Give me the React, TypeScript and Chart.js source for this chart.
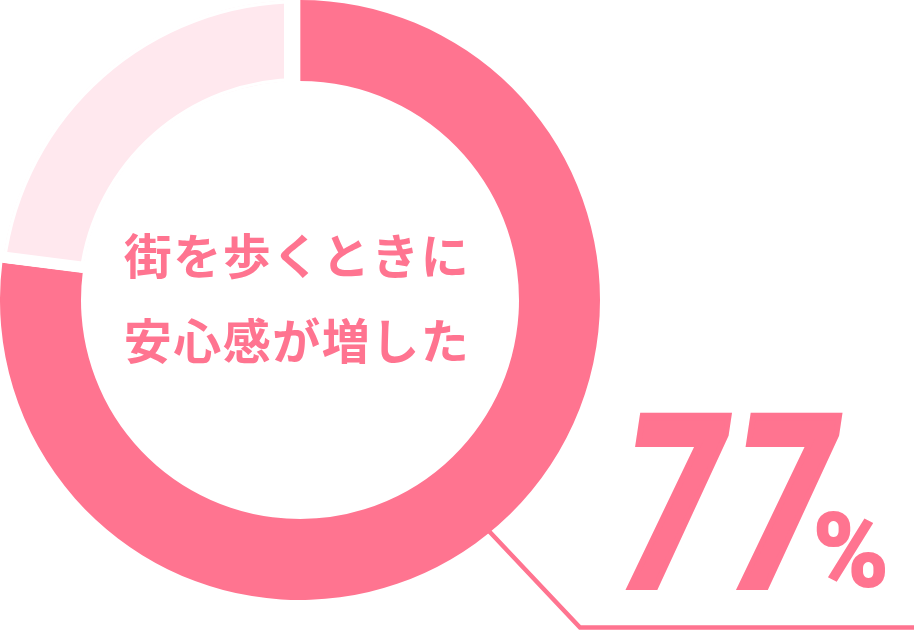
import { useEffect, useRef } from "react";
import { Chart, registerables } from "chart.js";

Chart.register(...registerables);

// data
const labels = ["街を歩くときに安心感が増した", "その他"];
const values = [77, 23];
const colors = ["#ff7490", "#ffe8ee"];
const centerLines = ["街を歩くときに", "安心感が増した"];
const bigValue = "77";
const unit = "%";

const PINK = "#ff7490";

const overlayPlugin = {
  id: "overlay",
  beforeDatasetsDraw(chart: any) {
    const ctx = chart.ctx;
    // leader line, starts under the ring
    ctx.save();
    ctx.strokeStyle = PINK;
    ctx.lineWidth = 4.5;
    ctx.beginPath();
    ctx.moveTo(470, 511);
    ctx.lineTo(580, 627.5);
    ctx.lineTo(chart.width + 5, 627.5);
    ctx.stroke();
    ctx.restore();
  },
  afterDatasetsDraw(chart: any) {
    const ctx = chart.ctx;
    const arc = chart.getDatasetMeta(0).data[1];
    if (!arc) return;
    const { x, y, startAngle, endAngle, innerRadius, outerRadius } = arc;

    // white gaps cut into the light segment
    const gap = (angle: number, width: number, side: number) => {
      const ux = Math.cos(angle);
      const uy = Math.sin(angle);
      const nx = -Math.sin(angle) * side * (width / 2);
      const ny = Math.cos(angle) * side * (width / 2);
      ctx.beginPath();
      ctx.moveTo(x + nx + ux * (innerRadius - 4), y + ny + uy * (innerRadius - 4));
      ctx.lineTo(x + nx + ux * (outerRadius + 4), y + ny + uy * (outerRadius + 4));
      ctx.lineWidth = width;
      ctx.stroke();
    };
    ctx.save();
    ctx.strokeStyle = "#ffffff";
    ctx.lineCap = "butt";
    gap(startAngle, 11, 1);
    gap(endAngle, 16, -1);
    ctx.restore();

    // centre caption
    ctx.save();
    ctx.fillStyle = PINK;
    ctx.font = 'bold 48px "Noto Sans CJK JP"';
    ctx.textAlign = "center";
    ctx.textBaseline = "middle";
    (ctx as any).letterSpacing = "1.5px";
    ctx.fillText(centerLines[0], x - 3, y - 44);
    ctx.fillText(centerLines[1], x - 3, y + 41);
    ctx.restore();

    // big number, slanted and condensed
    ctx.save();
    ctx.fillStyle = PINK;
    ctx.strokeStyle = PINK;
    ctx.lineJoin = "miter";
    ctx.translate(612, 586);
    ctx.transform(1, 0, -0.15, 1, 0, 0);
    ctx.scale(0.72, 1);
    ctx.font = 'bold 238px Roboto';
    (ctx as any).letterSpacing = "17px";
    ctx.lineWidth = 8;
    ctx.textAlign = "left";
    ctx.textBaseline = "alphabetic";
    ctx.fillText(bigValue, 0, 0);
    ctx.strokeText(bigValue, 0, 0);
    ctx.restore();

    ctx.save();
    ctx.fillStyle = PINK;
    ctx.strokeStyle = PINK;
    ctx.lineWidth = 2;
    ctx.font = 'bold 102px Roboto';
    ctx.textAlign = "left";
    ctx.textBaseline = "alphabetic";
    ctx.fillText(unit, 813, 586);
    ctx.strokeText(unit, 813, 586);
    ctx.restore();
  },
};

export default function App() {
  const canvasRef = useRef<HTMLCanvasElement>(null);
  const chartRef = useRef<Chart | null>(null);

  useEffect(() => {
    document.body.style.margin = "0";
    if (!canvasRef.current) return;
    const ctx = canvasRef.current.getContext("2d");
    if (!ctx) return;
    if (chartRef.current) chartRef.current.destroy();

    chartRef.current = new Chart(ctx, {
      type: "doughnut",
      data: {
        labels,
        datasets: [
          {
            data: values,
            backgroundColor: colors,
            borderColor: "#ffffff",
            borderWidth: [0, 3],
            borderAlign: ["center", "inner"] as any,
          },
        ],
      },
      options: {
        animation: false,
        responsive: true,
        maintainAspectRatio: false,
        cutout: "73%",
        rotation: 0,
        events: [],
        layout: { padding: { left: 0, top: 0, right: 314, bottom: 32 } },
        plugins: {
          legend: { display: false },
          tooltip: { enabled: false },
        },
      },
      plugins: [overlayPlugin],
    });

    return () => {
      if (chartRef.current) {
        chartRef.current.destroy();
        chartRef.current = null;
      }
    };
  }, []);

  return (
    <div style={{ position: "relative", width: 914, height: 632, background: "#fff" }}>
      <canvas ref={canvasRef}></canvas>
    </div>
  );
}
